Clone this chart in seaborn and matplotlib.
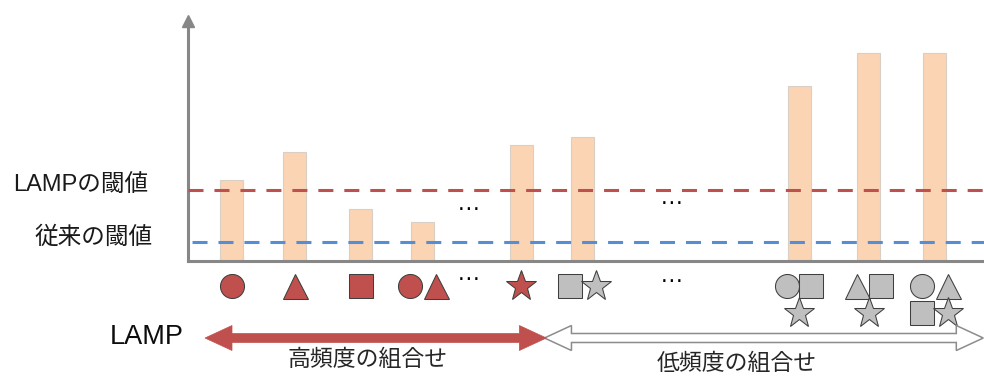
import matplotlib
matplotlib.use("Agg")
import matplotlib.pyplot as plt
from matplotlib.patches import Polygon
import numpy as np
import pandas as pd
import seaborn as sns

# Item combinations (shapes) and how often each one occurs
combos = [
    ["circle"], ["triangle"], ["square"], ["circle", "triangle"], ["star"],
    ["square", "star"], ["circle", "square", "star"],
    ["triangle", "square", "star"], ["circle", "triangle", "square", "star"],
]
freq = [81, 109, 52, 39, 116, 124, 175, 208, 208]
frequent = [True, True, True, True, True, False, False, False, False]
lamp_threshold = 71
conventional_threshold = 19

threshold_labels = ["LAMPの閾値", "従来の閾値"]
range_labels = ["高頻度の組合せ", "低頻度の組合せ"]
method_label = "LAMP"

# ---- layout -------------------------------------------------------------
W, H = 984, 376
AX_LEFT, AX_BASE, AX_TOP = 188, 261, 15      # pixel geometry of the axes
UNIT = 64.0                                 # pixels per slot on the x axis
X0 = -(231.5 - AX_LEFT) / UNIT
bar_pos = [0, 0.99, 2.02, 2.98, 4.53, 5.48, 8.87, 9.96, 10.99]
bar_w = 0.36
gap_pos = [3.71, 6.88]          # "…" marking omitted combinations

BAR_FILL, BAR_EDGE = "#FBD4B4", "#D9CFC4"
RED, BLUE, AXIS_GRAY = "#C0504D", "#558ED5", "#878787"
GRAY_FILL, SYM_EDGE = "#BFBFBF", "#3F3F3F"

sns.set_theme(style="white")
plt.rcParams["font.family"] = ["Liberation Sans", "Noto Sans CJK JP", "DejaVu Sans"]
plt.rcParams["lines.scale_dashes"] = False

fig = plt.figure(figsize=(W / 100, H / 100), dpi=100)
fig.patch.set_facecolor("white")
ax = fig.add_axes([AX_LEFT / W, (H - AX_BASE) / H,
                   (W - AX_LEFT) / W, (AX_BASE - AX_TOP) / H])
ax.set_facecolor("none")

df = pd.DataFrame({"pos": bar_pos, "freq": freq})
min_gap = np.min(np.diff(np.sort(bar_pos)))
sns.barplot(data=df, x="pos", y="freq", native_scale=True, orient="x",
            width=bar_w / min_gap, color=BAR_FILL, saturation=1,
            errorbar=None, edgecolor=BAR_EDGE, linewidth=0.8, ax=ax, zorder=2)

ax.set_xlim(X0, X0 + (W - AX_LEFT) / UNIT)
ax.set_ylim(0, AX_BASE - AX_TOP)
ax.set_xticks([])
ax.set_yticks([])
ax.set_xlabel("")
ax.set_ylabel("")

# axes: grey lines with an arrow head on the vertical axis
for side in ("top", "right"):
    ax.spines[side].set_visible(False)
for side in ("left", "bottom"):
    ax.spines[side].set_color(AXIS_GRAY)
    ax.spines[side].set_linewidth(2.2)
ax.spines["left"].set_bounds(0, AX_BASE - AX_TOP - 8)
ax.plot([0], [AX_BASE - AX_TOP - 5.5], marker="^", ms=8.0, color=AXIS_GRAY,
        transform=ax.get_yaxis_transform(), clip_on=False, zorder=5)

# thresholds
ax.axhline(lamp_threshold, color=RED, lw=2.2, ls=(0, (10.8, 7.9)), zorder=3)
ax.axhline(conventional_threshold, color=BLUE, lw=2.2, ls=(15.8, (10.8, 7.9)),
           zorder=3)
for text, thr, dx in zip(threshold_labels,
                         [lamp_threshold, conventional_threshold], [-40, -35]):
    ax.annotate(text, xy=(0, thr), xycoords=("axes fraction", "data"),
                xytext=(dx, 4), textcoords="offset pixels", ha="right",
                va="center", fontsize=17, color="#1a1a1a",
                annotation_clip=False)

# omitted combinations
for gx, y_top, y_low in zip(gap_pos, [50.5, 57.0], [-18.5, -21.0]):
    for yy in (y_top, y_low):
        ax.text(gx, yy, "…", ha="center", va="baseline", fontsize=17,
                color="black", fontfamily="Liberation Sans", clip_on=False)

# shape glyphs for each combination under its bar
markers = {"circle": ("o", 17.3), "triangle": ("^", 18.0),
           "square": ("s", 16.9), "star": ("*", 23.0)}
offsets = {
    1: [(0, 0)],
    2: [(-12.5, 0), (13.5, 0)],
    3: [(-12, 0), (12, 0), (0, -27)],
    4: [(-13, 0), (13, 0), (-13, -27), (13, -27)],
}
ROW_Y = -25
for pos, shapes, hi in zip(bar_pos, combos, frequent):
    fill = RED if hi else GRAY_FILL
    for shape, (dx, dy) in zip(shapes, offsets[len(shapes)]):
        m, ms = markers[shape]
        ax.plot([pos + dx / UNIT], [ROW_Y + dy], marker=m, ms=ms, mfc=fill,
                mec=SYM_EDGE, mew=0.75, ls="none", clip_on=False, zorder=6)


def double_arrow(x0, x1, y, shaft=4.5, head=12.5, head_len=27 / UNIT):
    return [(x0, y), (x0 + head_len, y + head), (x0 + head_len, y + shaft),
            (x1 - head_len, y + shaft), (x1 - head_len, y + head), (x1, y),
            (x1 - head_len, y - head), (x1 - head_len, y - shaft),
            (x0 + head_len, y - shaft), (x0 + head_len, y - head)]


ARROW_Y = -77
split = 4.92
ax.add_patch(Polygon(double_arrow(split - 0.03, X0 + (W - 0.7 - AX_LEFT) / UNIT,
                                  ARROW_Y),
                     closed=True, facecolor="white", edgecolor="#8C8C8C",
                     lw=1.1, clip_on=False, zorder=6))
ax.add_patch(Polygon(double_arrow(-0.414, split, ARROW_Y), closed=True,
                     facecolor=RED, edgecolor=RED, lw=0.5, clip_on=False,
                     zorder=7))

# labels below the axis
fig.text(110 / W, 1 - 344.3 / H, method_label, ha="left", va="baseline",
         fontsize=19.5, color="#0d0d0d")
for text, cx, cy in zip(range_labels, [367.5, 736.7], [360.0, 363.5]):
    fig.text(cx / W, 1 - cy / H, text, ha="center", va="center",
             fontsize=16.5, color="#262626")

fig.savefig("out.png", dpi=100, facecolor="white")
